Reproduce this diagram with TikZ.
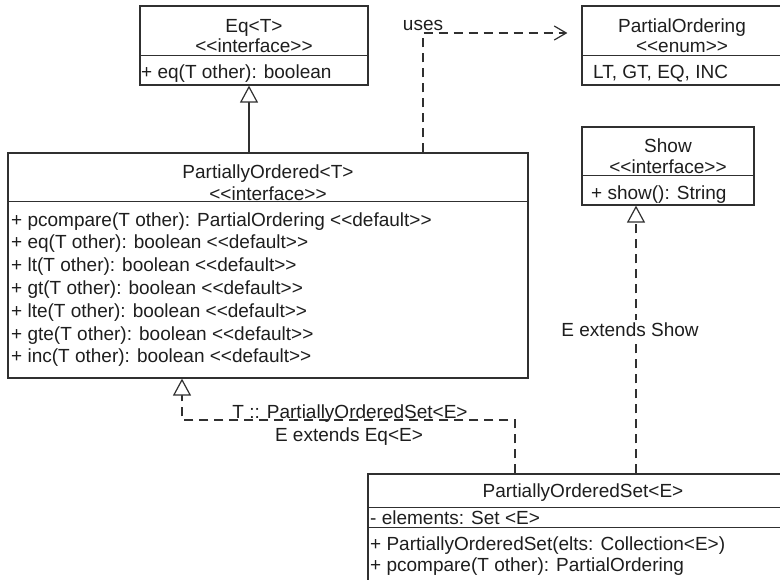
\documentclass[tikz,border=0pt]{standalone}
\usepackage{fontspec}
\setmainfont{Liberation Sans}
\usetikzlibrary{arrows.meta,calc}
\definecolor{lc}{HTML}{303030}
\definecolor{tc}{HTML}{1E1E1E}
\newcommand\stL{<\kern0pt<}
\newcommand\stR{>\kern0pt>}
\begin{document}
\begin{tikzpicture}[x=1pt,y=-1pt,
  font=\fontsize{19}{22}\selectfont,
  umlbox/.style={draw=lc,line width=1.2pt,inner sep=0pt,rectangle},
  divline/.style={draw=lc,line width=1.2pt},
  ttl/.style={text=tc,inner sep=0pt,anchor=base},
  mem/.style={text=tc,inner sep=0pt,anchor=base west},
  conn/.style={draw=lc,line width=1.2pt},
  dashline/.style={dash pattern=on 9pt off 6pt},
  gen/.style={conn,-{Triangle[open,length=17pt,width=18pt,fill=white]}},
  real/.style={conn,dashline,-{Triangle[open,length=17pt,width=18pt,fill=white]}},
  dep/.style={conn,dashline,-{Straight Barb[length=12pt,width=14pt]}},
  lbl/.style={text=tc,inner sep=0pt,anchor=base}
]
\useasboundingbox[fill=white] (0,0) rectangle (780,579);

% boxes
\node[umlbox,minimum width=228pt,minimum height=79pt] (eq) at (254,45.5) {};
\draw[divline] ($(eq.north west)+(0,50)$) -- ($(eq.north east)+(0,50)$);
\node[umlbox,minimum width=200pt,minimum height=79pt] (porder) at (682,45.5) {};
\draw[divline] ($(porder.north west)+(0,50)$) -- ($(porder.north east)+(0,50)$);
\node[umlbox,minimum width=172pt,minimum height=78pt] (show) at (668,166) {};
\draw[divline] ($(show.north west)+(0,49)$) -- ($(show.north east)+(0,49)$);
\node[umlbox,minimum width=520pt,minimum height=225pt] (pord) at (268,265.5) {};
\draw[divline] ($(pord.north west)+(0,49)$) -- ($(pord.north east)+(0,49)$);
\node[umlbox,minimum width=430pt,minimum height=130pt] (pos) at (583,539) {};
\draw[divline] ($(pos.north west)+(0,34)$) -- ($(pos.north east)+(0,34)$);
\draw[divline] ($(pos.north west)+(0,54)$) -- ($(pos.north east)+(0,54)$);

% texts
\node[ttl] (eqName) at (254,32) {Eq<T>};
\node[ttl] (eqSt) at (254,52) {\stL interface\stR};
\node[mem] (eqM) at (141,78) {+ eq(T other): boolean};

\node[ttl] (poName) at (682,32) {PartialOrdering};
\node[ttl] (poSt) at (682,52) {\stL enum\stR};
\node[mem] (poV) at (593,78) {LT, GT, EQ, INC};

\node[ttl] (shName) at (668,152) {Show};
\node[ttl] (shSt) at (668,173) {\stL interface\stR};
\node[mem] (shM) at (591,199) {+ show(): String};

\node[ttl] (pdName) at (268,178) {PartiallyOrdered<T>};
\node[ttl] (pdSt) at (268,200) {\stL interface\stR};
\node[mem] (pd1) at (11,226) {+ pcompare(T other): PartialOrdering \stL default\stR};
\node[mem] (pd2) at (11,248.8) {+ eq(T other): boolean \stL default\stR};
\node[mem] (pd3) at (11,271.6) {+ lt(T other): boolean \stL default\stR};
\node[mem] (pd4) at (11,294.4) {+ gt(T other): boolean \stL default\stR};
\node[mem] (pd5) at (11,317.2) {+ lte(T other): boolean \stL default\stR};
\node[mem] (pd6) at (11,340) {+ gte(T other): boolean \stL default\stR};
\node[mem] (pd7) at (11,362.8) {+ inc(T other): boolean \stL default\stR};

\node[ttl] (psName) at (583,497) {PartiallyOrderedSet<E>};
\node[mem] (psA) at (370,524) {- elements: Set <E>};
\node[mem] (psC) at (370,550) {+ PartiallyOrderedSet(elts: Collection<E>)};
\node[mem] (psP) at (370,571) {+ pcompare(T other): PartialOrdering};

% connectors
\coordinate (cEq) at (249,0);
\draw[gen] (pord.north -| cEq) -- (eq.south -| cEq);

\coordinate (cUse) at (423,33);
\draw[dep,shorten >=14pt] (pord.north -| cUse) -- (cUse) -- (porder.west |- cUse);
\node[lbl] (usesL) at (423,30) {uses};

\coordinate (cShow) at (636,0);
\draw[real] (pos.north -| cShow) -- (show.south -| cShow);
\node[lbl,fill=white,inner sep=2pt] (esL) at (630,336) {E extends Show};

\coordinate (cR1) at (515,420);
\coordinate (cR2) at (182,420);
\draw[real] (pos.north -| cR1) -- (cR1) -- (cR2) -- (pord.south -| cR2);
\node[lbl] (tL) at (350,418) {T :: PartiallyOrderedSet<E>};
\node[lbl] (eL) at (349,441) {E extends Eq<E>};
\end{tikzpicture}
\end{document}
